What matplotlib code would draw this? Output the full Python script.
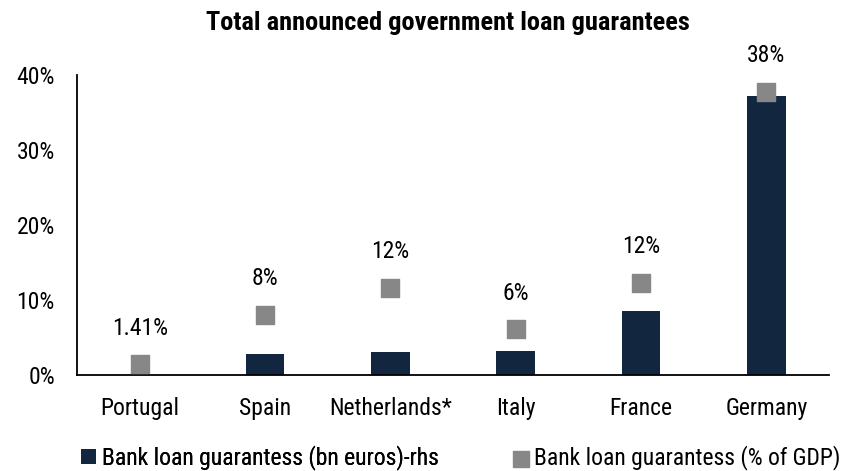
import matplotlib.pyplot as plt
from matplotlib.ticker import FuncFormatter

plt.rcParams['font.family'] = ['Roboto Condensed', 'Archivo Narrow', 'Liberation Sans', 'DejaVu Sans']

countries = ["Portugal", "Spain", "Netherlands*", "Italy", "France", "Germany"]
guarantees_bn = [0, 100, 107, 113, 298, 1302]          # bn euros, right-hand scale
guarantees_gdp = [1.41, 8, 11.6, 6.1, 12.3, 37.8]       # % of GDP
gdp_labels = ["1.41%", "8%", "12%", "6%", "12%", "38%"]

navy = "#13263f"
grey = "#878787"
fs = 17

W, H = 848, 471
fig = plt.figure(figsize=(W / 100, H / 100), dpi=100)
ax = fig.add_axes([77 / W, 1 - 375 / H, 752 / W, 300 / H])
ax2 = ax.twinx()

x = range(len(countries))

# bars on the hidden right-hand axis (bn euros)
bars = ax2.bar(x, guarantees_bn, width=0.31, color=navy, zorder=2)
ax2.set_ylim(0, 1400)
ax2.axis("off")

# % of GDP squares on the left axis, drawn above the bars
ax.set_zorder(ax2.get_zorder() + 1)
ax.patch.set_visible(False)
pts = ax.scatter(x, guarantees_gdp, marker="s", s=180, color=grey, zorder=3)
for xi, v, lab in zip(x, guarantees_gdp, gdp_labels):
    ax.annotate(lab, (xi, v), xytext=(0, 26), textcoords="offset points",
                ha="center", va="center", fontsize=fs)

ax.set_xlim(-0.5, len(countries) - 0.5)
ax.set_ylim(0, 40)
ax.set_yticks([0, 10, 20, 30, 40])
ax.yaxis.set_major_formatter(FuncFormatter(lambda v, p: f"{v:.0f}%"))
ax.set_xticks(list(x))
ax.set_xticklabels(countries)
ax.tick_params(axis="both", length=0, labelsize=fs)
ax.tick_params(axis="x", pad=16)
ax.tick_params(axis="y", pad=16)
for s in ["top", "right"]:
    ax.spines[s].set_visible(False)
ax.spines["left"].set_linewidth(1.3)
ax.spines["bottom"].set_linewidth(1.3)

fig.text(448 / W, 1 - 30 / H, "Total announced government loan guarantees",
         ha="center", va="baseline", fontsize=19, fontweight="bold")

# two legend entries along the bottom
leg_kw = dict(loc="center left", frameon=False, fontsize=fs, borderpad=0,
              borderaxespad=0, handlelength=0.64, handleheight=0.64,
              handletextpad=0.25)
leg1 = fig.legend([bars], ["Bank loan guarantess (bn euros)-rhs"],
                  bbox_to_anchor=(81 / W, 1 - 458 / H), **leg_kw)
fig.add_artist(leg1)
fig.legend([pts], ["Bank loan guarantess (% of GDP)"], markerscale=0.85,
           bbox_to_anchor=(513 / W, 1 - 458 / H), **leg_kw)

fig.savefig("out.png", dpi=100)
